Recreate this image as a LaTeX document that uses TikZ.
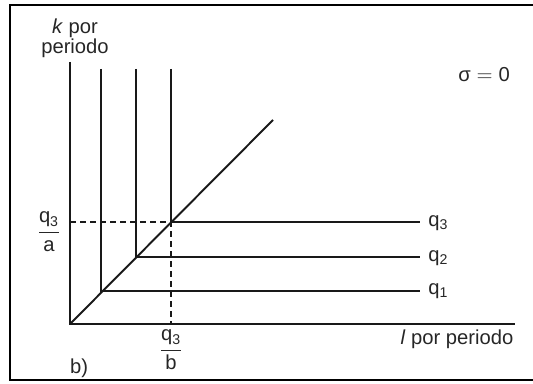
\documentclass[tikz,border=0pt]{standalone}
\usepackage{fontspec}
\setmainfont{Liberation Sans}

\begin{document}
\begin{tikzpicture}[x=0.02cm, y=-0.02cm,
  lbl/.style={font=\fontsize{11.5}{10}\selectfont, text=black!85, inner sep=0pt},
  qlabel/.style={lbl, anchor=west},
  axis/.style={line width=1.1pt, black!90},
  iso/.style={line width=1.1pt, black!90},
  guide/.style={line width=0.9pt, black!90, dash pattern=on 3.4pt off 2.3pt},
  frame/.style={line width=1.4pt, black}
]
\useasboundingbox (0,0) rectangle (533,384);

\draw [frame] (533,5) -- (10,5) -- (10,380) -- (533,380);

\coordinate (origin) at (70,324);
\coordinate (ktop) at (70,62);
\coordinate (lend) at (515,324);
\coordinate (c1) at (101,291);
\coordinate (c2) at (136,257);
\coordinate (c3) at (171,222);
\coordinate (rayend) at (273,120);

\node (ylabel) [lbl, align=center, anchor=base] at (75,54) {\textit{k} por\\periodo};
\node (xlabel) [lbl, anchor=base] at (457,344) {\textit{l} por periodo};
\node (sigma) [lbl] at (484,75) {σ${}={}$0};
\node (q1) [qlabel] at (428,291) {q\textsubscript{1}};
\node (q2) [qlabel] at (428,258) {q\textsubscript{2}};
\node (q3) [qlabel] at (428,223) {q\textsubscript{3}};
\node (fa) [lbl] at (49,232) {$\displaystyle\frac{\hbox{q\textsubscript{3}}}{\hbox{a}}$};
\node (fb) [lbl] at (171,350) {$\displaystyle\frac{\hbox{q\textsubscript{3}}}{\hbox{b}}$};
\node (part) [lbl] at (79,368) {b)};

\draw [axis] (ktop) -- (origin) -- (lend);

\draw [iso] (c1 |- 0,69) -- (c1) -- (420,291);
\draw [iso] (c2 |- 0,69) -- (c2) -- (420,257);
\draw [iso] (c3 |- 0,69) -- (c3) -- (420,222);

\draw [iso] (origin) -- (rayend);

\draw [guide] (origin |- c3) -- (c3) -- (c3 |- origin);

\end{tikzpicture}
\end{document}
